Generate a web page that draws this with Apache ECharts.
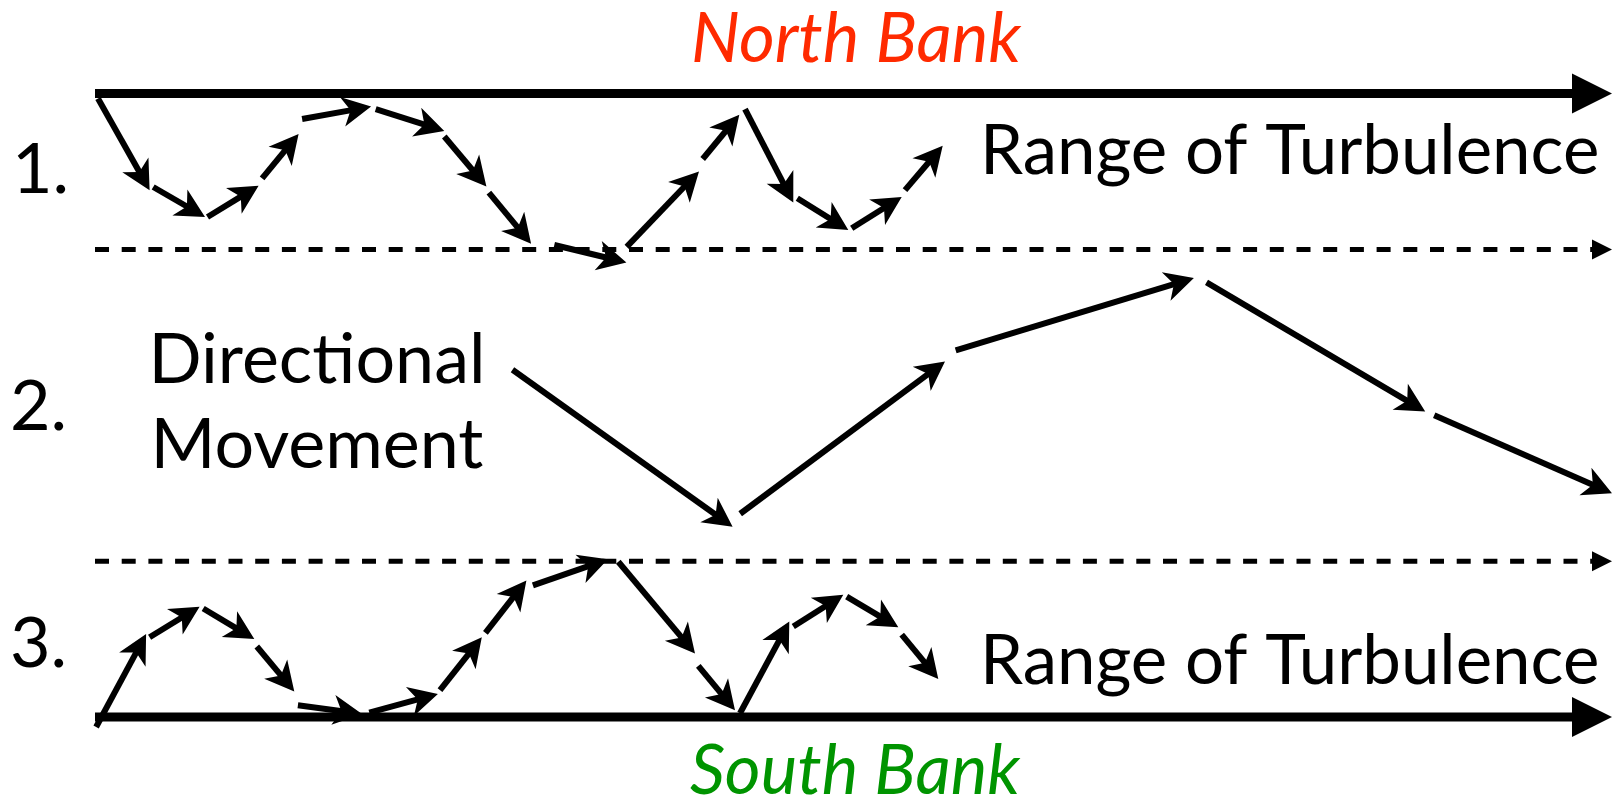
<!DOCTYPE html>
<html>
<head>
<meta charset="utf-8">
<script src="https://cdn.jsdelivr.net/npm/echarts@6/dist/echarts.min.js"></script>
<style>
html,body{margin:0;padding:0;background:#fff;}
#chart{width:1614px;height:802px;}
</style>
</head>
<body>
<div id="chart"></div>
<script>
// x: distance downstream (px-equivalent units); y: position across river (South Bank = 0, North Bank = 100)
const riverStart = 95;
const riverEnd = 1612;
const banks = [100, 0];          // North Bank, South Bank
const turbulenceLimits = [75, 25];

// each arrow: [xStart, yStart, xEnd, yEnd]
const northTurbulence = [
  [98, 99.2, 149.6, 84.5],
  [153.2, 85.0, 205, 80.2],
  [207.5, 80.2, 258.6, 85.2],
  [262.1, 86.4, 298.6, 93.5],
  [302.1, 95.9, 371.1, 97.9],
  [375.7, 97.5, 444.3, 94.0],
  [444.3, 93.1, 486.4, 85.1],
  [488.9, 84.1, 531.1, 75.9],
  [554.3, 75.7, 626.4, 72.9],
  [626.7, 75.4, 699, 87.5],
  [702.7, 89.5, 739.3, 96.6],
  [745, 97.5, 793.3, 82.5],
  [797.3, 83.2, 848.3, 78.1],
  [851.7, 78.4, 901.7, 83.4],
  [905, 84.5, 942.7, 91.6]
];
const directionalMovement = [
  [512.5, 55.7, 732.6, 30.5],
  [740.2, 32.6, 945, 57.0],
  [955.7, 58.8, 1193.9, 70.4],
  [1206.5, 69.7, 1425.2, 49.0],
  [1434.2, 48.4, 1612, 35.9]
];
const southTurbulence = [
  [96.1, -1.6, 146.1, 13.3],
  [149.6, 12.8, 199.6, 17.7],
  [203.2, 17.4, 254.3, 12.5],
  [256.8, 11.3, 294.3, 4.1],
  [297.9, 1.9, 362.1, 0.5],
  [369.3, 0.7, 437.9, 3.7],
  [440, 4.3, 481.8, 12.8],
  [485.4, 13.5, 526.4, 21.9],
  [532.9, 21.1, 607.9, 25.3],
  [618.3, 24.9, 695, 10.2],
  [698.3, 8.2, 735, 1.1],
  [740, 0.6, 789.3, 15.3],
  [793.3, 14.5, 843.3, 19.6],
  [846.7, 19.3, 898.3, 14.4],
  [901.7, 13.2, 938.3, 6.1]
];
const bankLabels = ['North Bank', 'South Bank'];
const rowLabels = ['1.', '2.', '3.'];
const turbulenceLabel = 'Range of Turbulence';
const directionalLabel = ['Directional', 'Movement'];

const chart = echarts.init(document.getElementById('chart'), null, {renderer: 'canvas'});

function arrowItem(params, api) {
  const p1 = api.coord([api.value(0), api.value(1)]);
  const p2 = api.coord([api.value(2), api.value(3)]);
  const dx = p2[0] - p1[0], dy = p2[1] - p1[1];
  const len = Math.sqrt(dx * dx + dy * dy);
  const ux = dx / len, uy = dy / len;
  const nx = -uy, ny = ux;
  const L = 29, W = 15, notch = 0.72 * L;
  const nb = [p2[0] - ux * notch, p2[1] - uy * notch];
  return {
    type: 'group',
    children: [
      {type: 'line', shape: {x1: p1[0], y1: p1[1], x2: nb[0] + ux, y2: nb[1] + uy},
       style: {stroke: '#000', lineWidth: 6, lineCap: 'butt'}},
      {type: 'polygon', shape: {points: [
        p2,
        [p2[0] - ux * L + nx * W, p2[1] - uy * L + ny * W],
        nb,
        [p2[0] - ux * L - nx * W, p2[1] - uy * L - ny * W]
      ]}, style: {fill: '#000'}}
    ]
  };
}

function hLineItem(dashed) {
  return function (params, api) {
    const y = api.value(0);
    const a = api.coord([riverStart, y]);
    const b = api.coord([riverEnd, y]);
    const headL = dashed ? 20 : 40;
    const headW = dashed ? 10 : 20;
    return {
      type: 'group',
      children: [
        {type: 'line', shape: {x1: a[0], y1: a[1], x2: b[0] - headL + 1, y2: b[1]},
         style: {stroke: '#000', lineWidth: dashed ? 5 : 9, lineDash: dashed ? [14, 12.7] : null, lineCap: 'butt'}},
        {type: 'polygon', shape: {points: [[b[0], b[1]], [b[0] - headL, b[1] - headW], [b[0] - headL, b[1] + headW]]},
         style: {fill: '#000'}}
      ]
    };
  };
}

const FONT = 'Lato, "Open Sans", sans-serif';
function txt(text, x, y, opts) {
  return Object.assign({
    type: 'text', x: x, y: y, silent: true,
    style: Object.assign({text: text, fontFamily: FONT, fontSize: 70, fill: '#000',
      textAlign: 'left', textVerticalAlign: 'middle', verticalAlign: 'middle'}, opts || {})
  });
}

const option = {
  animation: false,
  backgroundColor: '#fff',
  grid: {left: 0, right: 0, top: 93.5, bottom: 85, containLabel: false, show: false},
  xAxis: {type: 'value', min: 0, max: 1614, show: false},
  yAxis: {type: 'value', min: 0, max: 100, show: false},
  series: [
    {type: 'custom', name: 'banks', renderItem: hLineItem(false), data: banks.map(v => [v]), encode: {y: 0}},
    {type: 'custom', name: 'limits', renderItem: hLineItem(true), data: turbulenceLimits.map(v => [v]), encode: {y: 0}},
    {type: 'custom', name: 'North turbulence', renderItem: arrowItem, data: northTurbulence, encode: {x: [0, 2], y: [1, 3]}},
    {type: 'custom', name: 'Directional movement', renderItem: arrowItem, data: directionalMovement, encode: {x: [0, 2], y: [1, 3]}},
    {type: 'custom', name: 'South turbulence', renderItem: arrowItem, data: southTurbulence, encode: {x: [0, 2], y: [1, 3]}}
  ],
  graphic: [
    txt(bankLabels[0], 856, 40, {textAlign: 'center', fontStyle: 'italic', fontSize: 69, fill: '#FF2A00'}),
    txt(bankLabels[1], 855, 772, {textAlign: 'center', fontStyle: 'italic', fontSize: 69, fill: '#009400'}),
    txt(rowLabels[0], 12, 170),
    txt(rowLabels[1], 10, 407),
    txt(rowLabels[2], 10, 644),
    txt(directionalLabel[0], 317, 360, {textAlign: 'center'}),
    txt(directionalLabel[1], 317, 445, {textAlign: 'center'}),
    txt(turbulenceLabel, 980, 152, {fontSize: 69}),
    txt(turbulenceLabel, 980, 662, {fontSize: 69})
  ]
};
chart.setOption(option);
</script>
</body>
</html>
